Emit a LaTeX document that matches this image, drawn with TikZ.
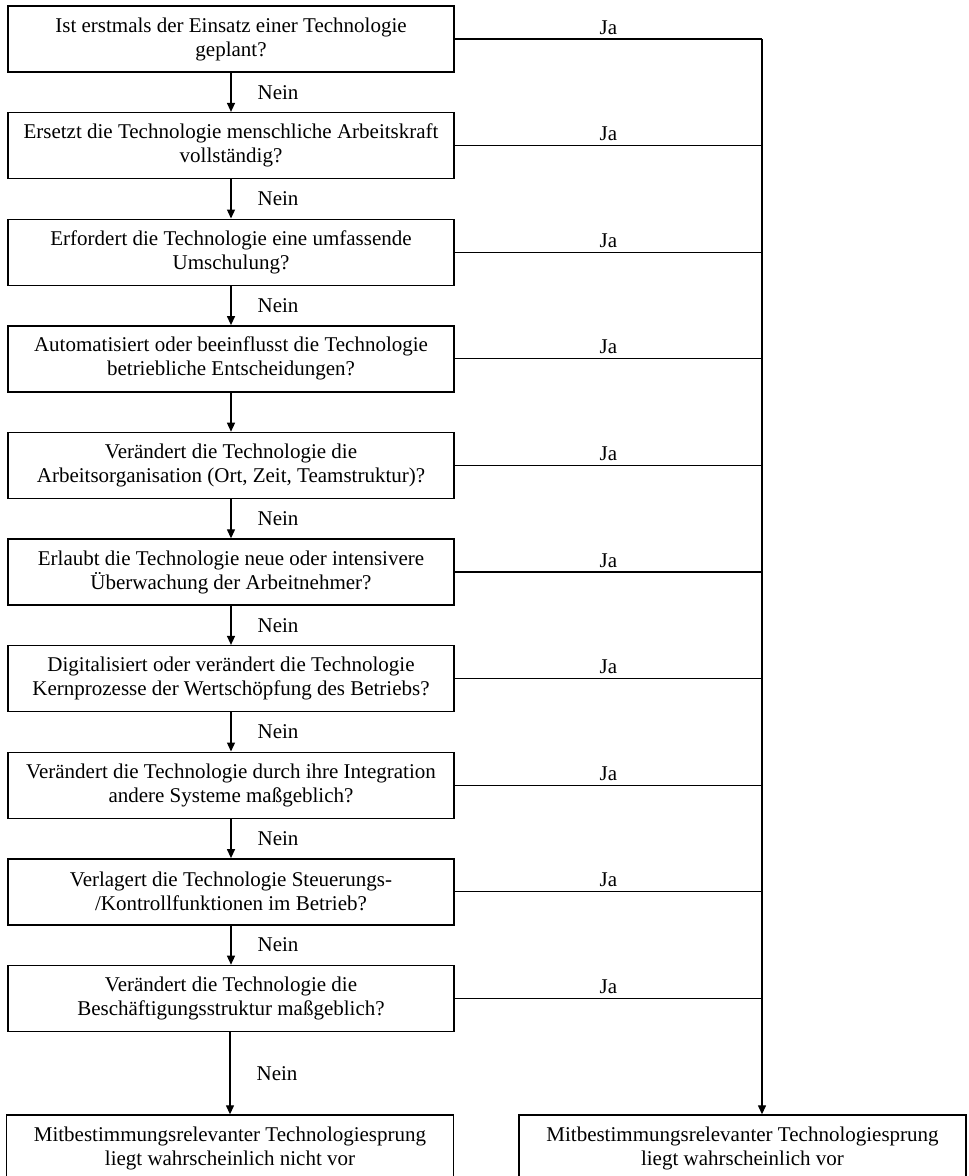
\documentclass[tikz,border=0pt]{standalone}
\usepackage{fontspec}
\setmainfont{Liberation Serif}
\usetikzlibrary{arrows.meta}
\begin{document}
\begin{tikzpicture}[x=1pt,y=-1pt,
  qbox/.style={draw=black, line width=1.4pt, rectangle, minimum width=446pt, minimum height=66pt, align=center, inner sep=0pt, font=\fontsize{21}{24}\selectfont},
  ebox/.style={qbox, minimum width=447pt},
  conn/.style={line width=1.3pt},
  arr/.style={conn, -{Triangle[width=8pt,length=9pt]}},
  lbl/.style={font=\fontsize{21}{24}\selectfont, inner sep=0pt}
]
\useasboundingbox (0,0) rectangle (969,1176);
\clip (0,0) rectangle (969,1176);

\node[qbox] (q1)  at (231,39)    {Ist erstmals der Einsatz einer Technologie\\geplant?};
\node[qbox] (q2)  at (231,145.6) {Ersetzt die Technologie menschliche Arbeitskraft\\vollständig?};
\node[qbox] (q3)  at (231,252.2) {Erfordert die Technologie eine umfassende\\Umschulung?};
\node[qbox] (q4)  at (231,358.8) {Automatisiert oder beeinflusst die Technologie\\betriebliche Entscheidungen?};
\node[qbox] (q5)  at (231,465.4) {Verändert die Technologie die\\Arbeitsorganisation (Ort, Zeit, Teamstruktur)?};
\node[qbox] (q6)  at (231,572)   {Erlaubt die Technologie neue oder intensivere\\Überwachung der Arbeitnehmer?};
\node[qbox] (q7)  at (231,678.6) {Digitalisiert oder verändert die Technologie\\Kernprozesse der Wertschöpfung des Betriebs?};
\node[qbox] (q8)  at (231,785.2) {Verändert die Technologie durch ihre Integration\\andere Systeme maßgeblich?};
\node[qbox] (q9)  at (231,891.8) {Verlagert die Technologie Steuerungs-\\/Kontrollfunktionen im Betrieb?};
\node[qbox] (q10) at (231,998.4) {Verändert die Technologie die\\Beschäftigungsstruktur maßgeblich?};

\node[ebox] (no)  at (230,1148) {Mitbestimmungsrelevanter Technologiesprung\\liegt wahrscheinlich nicht vor};
\node[ebox] (yes) at (742.5,1148) {Mitbestimmungsrelevanter Technologiesprung\\liegt wahrscheinlich vor};

\coordinate (rail) at (762,39);

% Nein arrows
\foreach \a/\b in {q1/q2,q2/q3,q3/q4,q5/q6,q6/q7,q7/q8,q8/q9,q9/q10}{
  \draw[arr] (\a.south) -- node[lbl, right, xshift=26pt]{Nein} (\b.north);
}
\draw[arr] (q4.south) -- (q5.north);
\draw[arr] (q10.south -| no.north) -- node[lbl, right, xshift=26pt]{Nein} (no.north);

% Ja lines
\foreach \q in {q1,q2,q3,q4,q5,q6,q7,q8,q9,q10}{
  \draw[conn] (\q.east) -- node[lbl, above, yshift=4pt]{Ja} (\q.east -| rail);
}
\draw[arr] (rail) -- (rail |- yes.north);
\end{tikzpicture}
\end{document}
